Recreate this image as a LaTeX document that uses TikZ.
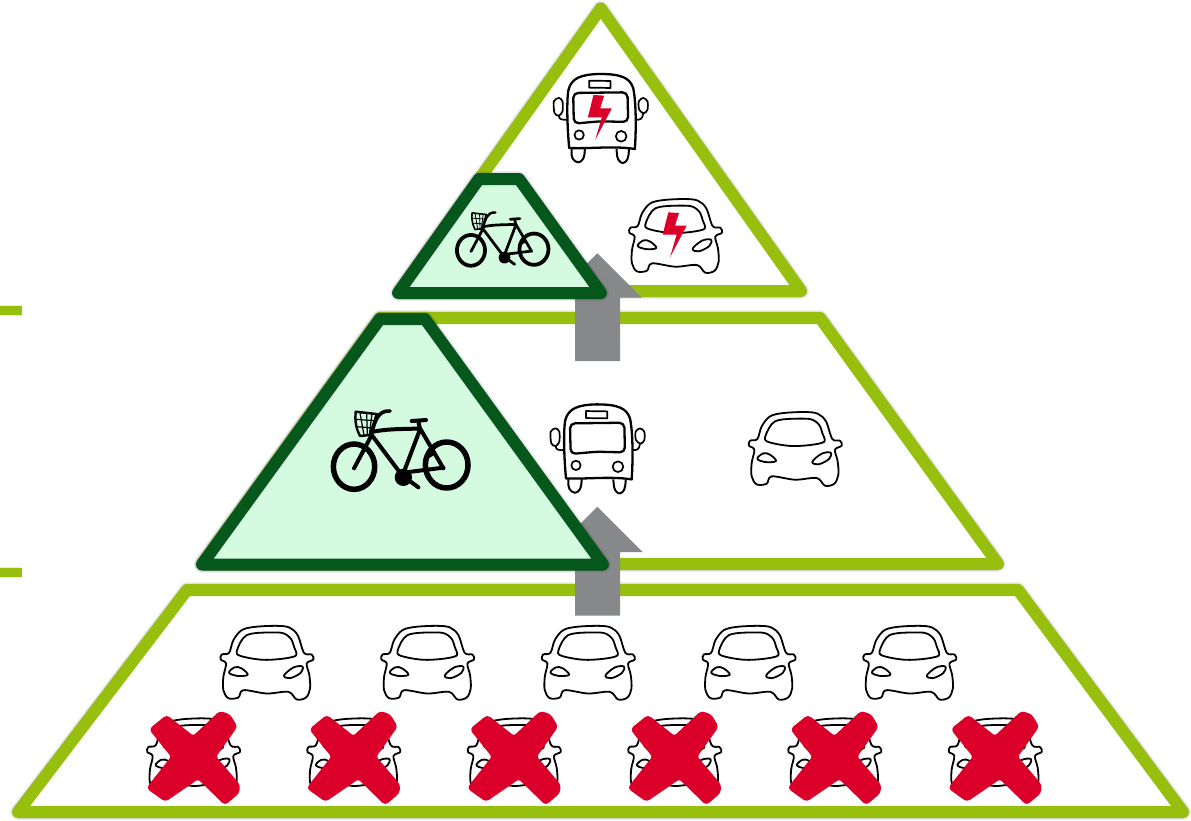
\documentclass[tikz,border=0pt]{standalone}
\definecolor{lime}{HTML}{97C00E}
\definecolor{dkgreen}{HTML}{06571C}
\definecolor{palegreen}{HTML}{D4FBDF}
\definecolor{arrowgray}{HTML}{87888A}
\definecolor{crossred}{HTML}{DB0029}
\newcommand{\carart}{%
  \begin{scope}[x=0.3333pt,y=-0.3333pt,shift={(-410,-157)},line width=1.8pt,black,line join=round]
    \draw[fill=white] plot[smooth cycle,tension=.55] coordinates {(297,128)(310,90)(335,60)(375,50)(440,47)(478,52)(503,75)(522,128)(545,133)(550,148)(530,160)(538,195)(540,235)(528,262)(500,268)(475,245)(410,250)(340,240)(325,262)(295,264)(280,240)(280,200)(288,160)(272,148)(275,133)};
    \draw plot[smooth cycle,tension=.5] coordinates {(320,130)(332,95)(350,75)(385,68)(455,68)(482,85)(492,110)(498,136)(455,146)(400,149)(350,142)};
    \draw plot[smooth cycle,tension=.6] coordinates {(297,187)(315,171)(335,175)(353,194)(320,197)};
    \draw plot[smooth cycle,tension=.6] coordinates {(462,196)(490,172)(517,169)(512,188)(480,204)};
  \end{scope}}
\newcommand{\busart}{%
  \begin{scope}[x=0.3333pt,y=-0.3333pt,shift={(-862,-176)},line width=1.7pt,black,line join=round]
    \draw plot[smooth cycle,tension=.5] coordinates {(737,115)(748,125)(748,155)(737,168)(724,160)(722,125)};
    \draw plot[smooth cycle,tension=.5] coordinates {(990,115)(1003,125)(1003,150)(992,161)(978,150)(977,125)};
    \draw (737,168) .. controls (738,180) and (745,181) .. (765,180);
    \draw (990,161) .. controls (988,180) and (980,181) .. (967,180);
    \draw[line width=2pt] (775,266) -- (775,285) .. controls (777,303) and (790,308) .. (796,308) .. controls (808,306) and (815,295) .. (815,266);
    \draw[line width=2pt] (910,268) -- (912,290) .. controls (915,305) and (925,311) .. (930,310) .. controls (942,307) and (947,295) .. (947,268);
    \draw[line width=2.3pt] (768,265) .. controls (762,200) and (760,120) .. (766,90) .. controls (775,55) and (805,44) .. (860,43) .. controls (925,43) and (950,55) .. (960,85) .. controls (968,120) and (970,200) .. (965,268) .. controls (900,258) and (830,268) .. (768,265) -- cycle;
    \draw[line width=2.3pt,rounded corners=5pt] (780,100) -- (943,98) -- (945,187) -- (860,185) -- (782,192) -- cycle;
    \draw (828,63) -- (892,64) -- (892,85) -- (828,84) -- cycle;
    \draw (798,226) circle[radius=14];
    \draw (924,230) circle[radius=16];
  \end{scope}}
\newcommand{\boltart}{%
  \fill[crossred] (-21,-70) -- (11,-68) -- (-1,-30) -- (34,-30) -- (-16,65) -- (4,-3) -- (-38,-3) -- cycle;}
\newcommand{\bikeart}[1]{%
  \begin{scope}[x=#1*0.3333pt,y=-#1*0.3333pt,shift={(-272,-180)},line join=round,line cap=round,black]
    \draw[line width=#1*5.5pt] (132,230) ellipse[x radius=62,y radius=68];
    \draw[line width=#1*5.5pt] (410,225) ellipse[x radius=64,y radius=69];
    \draw[line width=#1*4pt] (185,135) -- (275,255) (190,125) .. controls (240,115) and (290,118) .. (330,115) (330,118) -- (280,250) (330,115) -- (400,235) (280,248) -- (400,233) (185,135) -- (132,235);
    \draw[line width=#1*4pt] (305,93) -- (348,90) (325,95) -- (330,118);
    \draw[line width=#1*3.4pt] (345,205) -- (372,190);
    \fill (280,262) circle[radius=26];
    \draw[line width=#1*4pt] (295,270) -- (325,292);
    \draw[line width=#1*3.6pt] (185,125) .. controls (195,100) and (200,60) .. (240,63);
    \draw[line width=#1*2.4pt] (137,65) -- (200,72) -- (180,135) -- (150,138) .. controls (135,110) and (135,85) .. (137,65) -- cycle;
    \draw[line width=#1*1.2pt] (150,68) -- (162,137) (170,70) -- (172,136) (186,70) -- (178,134) (137,88) -- (195,92) (139,110) -- (189,114);
  \end{scope}}
\tikzset{
  limeline/.style={draw=lime,line width=12pt,line join=round},
  darkline/.style={draw=dkgreen,fill=palegreen,line width=12pt,line join=round},
  softshadowa/.style={draw=black,opacity=.07,line width=16pt,line join=round,shift={(1pt,-4pt)}},
  softshadowb/.style={draw=black,opacity=.12,line width=13pt,line join=round,shift={(1pt,-3pt)}},
  tickshadowa/.style={draw=black,opacity=.08,line width=11pt,shift={(1.5pt,-4pt)}},
  tickshadowb/.style={draw=black,opacity=.15,line width=9pt,shift={(1pt,-3pt)}},
  gtarrow/.style={fill=arrowgray},
  tickline/.style={draw=lime,line width=9.3pt},
  carpic/.pic={\carart},
  buspic/.pic={\busart},
  boltpic/.pic={\begin{scope}[x=0.3333pt,y=-0.3333pt]\boltart\end{scope}},
  bigbike/.pic={\bikeart{1}},
  smallbike/.pic={\bikeart{0.68}},
  crosspic/.pic={\begin{scope}[x=0.3333pt,y=-0.3333pt,shift={(-190,-444)}]
    \filldraw[crossred,line width=2pt,line join=round,rounded corners=3pt] (110,318) -- (190,381) -- (270,306) -- (298,315) -- (319,350) -- (255,440) -- (327,525) -- (325,548) -- (285,582) -- (205,504) -- (106,572) -- (53,534) -- (127,440) -- (61,358) -- cycle;
  \end{scope}},
}
\begin{document}
\begin{tikzpicture}[x=1pt,y=-1pt]
\useasboundingbox (0,0) rectangle (1191,820);
\fill[white] (0,0) rectangle (1191,820);
% named corners
\coordinate (ta) at (600.7,8.5); \coordinate (tr) at (801,291); \coordinate (tl) at (400,291);
\coordinate (ma) at (380,318); \coordinate (mb) at (820,318); \coordinate (mc) at (998,564); \coordinate (md) at (202,564);
\coordinate (la) at (187,590); \coordinate (lb) at (1018,590); \coordinate (lc) at (1183,812); \coordinate (ld) at (18,812);
\coordinate (sa) at (479,179); \coordinate (sb) at (519,179); \coordinate (sc) at (601,293); \coordinate (sd) at (398,293);
\coordinate (ba) at (380,319); \coordinate (bb) at (425,319); \coordinate (bc) at (603,564.5); \coordinate (bd) at (202,564.5);
\coordinate (ua) at (0,310.4); \coordinate (ub) at (22,310.4);
\coordinate (va) at (0,572.8); \coordinate (vb) at (22,572.8);
% soft shadows
\foreach \s in {tickshadowa,tickshadowb}{
  \draw[\s] (ua) -- (ub);
  \draw[\s] (va) -- (vb);
}
\foreach \s in {softshadowa,softshadowb}{
  \draw[\s] (ta) -- (tr) -- (tl) -- cycle;
  \draw[\s] (ma) -- (mb) -- (mc) -- (md) -- cycle;
  \draw[\s] (la) -- (lb) -- (lc) -- (ld) -- cycle;
}
% side ticks
\draw[tickline] (ua) -- (ub);
\draw[tickline] (va) -- (vb);
% lime frames
\draw[limeline,fill=white] (ta) -- (tr) -- (tl) -- cycle;
\draw[limeline,fill=white] (ma) -- (mb) -- (mc) -- (md) -- cycle;
\draw[limeline,fill=white] (la) -- (lb) -- (lc) -- (ld) -- cycle;
% arrows
\fill[gtarrow] (597.3,253.3) -- (641.7,297.7) -- (620,297.7) -- (620,361) -- (575,361) -- (575,297.7) -- (553,297.7) -- cycle;
\fill[gtarrow] (597.3,506.7) -- (642.7,552) -- (620,552) -- (620,615.7) -- (575,615.7) -- (575,552) -- (552,552) -- cycle;
% dark trapezoids
\foreach \s in {softshadowa,softshadowb}{
  \draw[\s] (sa) -- (sb) -- (sc) -- (sd) -- cycle;
  \draw[\s] (ba) -- (bb) -- (bc) -- (bd) -- cycle;
}
\draw[darkline] (sa) -- (sb) -- (sc) -- (sd) -- cycle;
\draw[darkline] (ba) -- (bb) -- (bc) -- (bd) -- cycle;
% vehicles
\pic at (600.5,118.3) {buspic};
\pic at (600.5,118.3) {boltpic};
\pic at (675.3,235.7) {carpic};
\pic at (675.3,235.7) {boltpic};
\pic at (502.7,239) {smallbike};
\pic at (597.3,448.7) {buspic};
\pic at (795,448.7) {carpic};
\pic at (400.7,450) {bigbike};
\foreach \x in {266.7,427.4,588.1,748.8,909.5} {\pic at (\x,662.5) {carpic};}
\foreach \x in {193.3,353.5,514,674.5,834.5,995} {
  \pic at (\x,755) {carpic};
  \pic at (\x,758) {crosspic};
}
\end{tikzpicture}
\end{document}
